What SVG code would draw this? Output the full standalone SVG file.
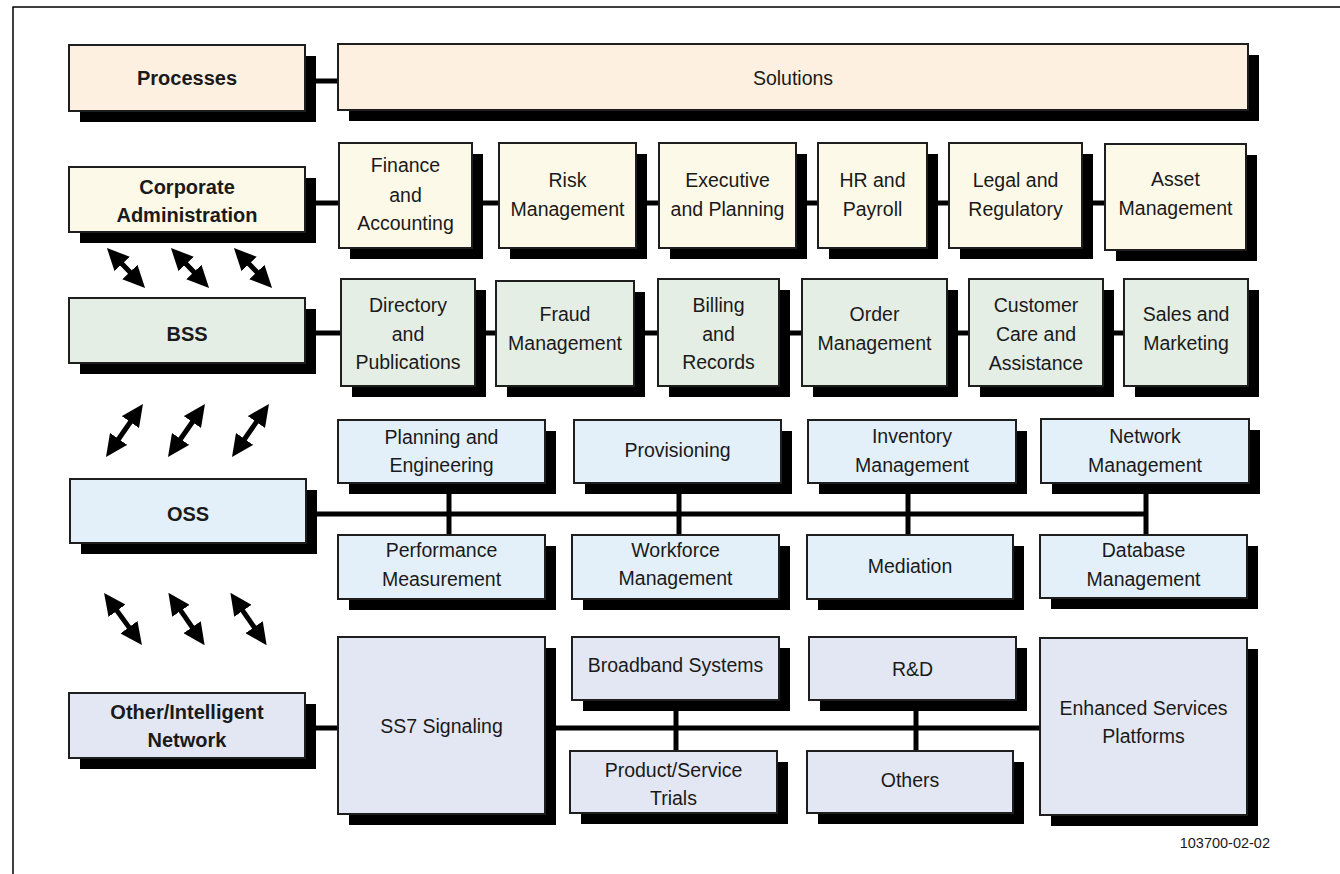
<svg xmlns="http://www.w3.org/2000/svg" width="1340" height="874" viewBox="0 0 1340 874">
<style>
  .sh{fill:#000}
  .bx{stroke:#1e1e1e;stroke-width:2}
  .p{fill:#FDF0E1}
  .c{fill:#FDF9E8}
  .b{fill:#E4EEE5}
  .o{fill:#E3F0FA}
  .i{fill:#E3E7F3}
  text{font-family:"Liberation Sans",Arial,Helvetica,sans-serif;font-size:19.5px;fill:#1a1a1a;text-anchor:middle}
  .bold{font-weight:bold;font-size:20px}
  .ln{stroke:#000;stroke-width:5;fill:none}
  .ar{stroke:#000;stroke-width:5;fill:none;marker-start:url(#ah);marker-end:url(#ah)}
  .frame{stroke:#000;stroke-width:1.5;fill:none}
  .foot{font-size:14.5px;text-anchor:end}
</style>
<defs>
  <marker id="ah" viewBox="0 0 22 21" refX="7" refY="10.5" markerWidth="22" markerHeight="21" markerUnits="userSpaceOnUse" orient="auto-start-reverse">
    <path d="M0,0 L22,10.5 L0,21 z" fill="#000"/>
  </marker>
</defs>
<rect width="1340" height="874" fill="#fff"/>
<path class="frame" d="M13,874 L13,7 L1340,7"/>

<g id="connectors">
  <line class="ln" x1="305" y1="81" x2="338" y2="81"/>
  <line class="ln" x1="305" y1="203" x2="1105" y2="203"/>
  <line class="ln" x1="305" y1="333" x2="1124" y2="333"/>
  <line class="ln" x1="306" y1="514" x2="1146" y2="514"/>
  <line class="ln" x1="449" y1="483" x2="449" y2="536"/>
  <line class="ln" x1="679" y1="483" x2="679" y2="536"/>
  <line class="ln" x1="908" y1="483" x2="908" y2="536"/>
  <line class="ln" x1="1146" y1="483" x2="1146" y2="536"/>
  <line class="ln" x1="305" y1="728" x2="1040" y2="728"/>
  <line class="ln" x1="676" y1="700" x2="676" y2="751"/>
  <line class="ln" x1="916" y1="700" x2="916" y2="751"/>
  <line class="ar" x1="117.3" y1="258.9" x2="134.7" y2="277.1"/>
  <line class="ar" x1="181.3" y1="258.9" x2="198.7" y2="277.1"/>
  <line class="ar" x1="244.3" y1="258.9" x2="261.7" y2="277.1"/>
  <line class="ar" x1="114.6" y1="444.7" x2="134.4" y2="416.3"/>
  <line class="ar" x1="176.6" y1="444.7" x2="196.4" y2="416.3"/>
  <line class="ar" x1="240.6" y1="444.7" x2="260.4" y2="416.3"/>
  <line class="ar" x1="112.9" y1="605.1" x2="133.1" y2="632.9"/>
  <line class="ar" x1="176.9" y1="605.1" x2="196.1" y2="632.9"/>
  <line class="ar" x1="238.9" y1="605.1" x2="258.1" y2="632.9"/>
</g>

<g id="processes"><rect class="sh" x="80" y="56" width="236" height="66"/><rect class="bx p" x="69" y="45" width="236" height="66"/><text class="bold" x="187" y="85">Processes</text></g>
<g id="solutions"><rect class="sh" x="349" y="55" width="910" height="66"/><rect class="bx p" x="338" y="44" width="910" height="66"/><text x="793" y="85">Solutions</text></g>

<g id="corporate"><rect class="sh" x="80" y="178" width="236" height="65"/><rect class="bx c" x="69" y="167" width="236" height="65"/><text class="bold" x="187" y="194">Corporate</text><text class="bold" x="187" y="222">Administration</text></g>
<g id="finance"><rect class="sh" x="350" y="154" width="133" height="105"/><rect class="bx c" x="339" y="143" width="133" height="105"/><text x="405.5" y="172">Finance</text><text x="405.5" y="202">and</text><text x="405.5" y="230">Accounting</text></g>
<g id="risk"><rect class="sh" x="510" y="154" width="137" height="105"/><rect class="bx c" x="499" y="143" width="137" height="105"/><text x="567.5" y="187">Risk</text><text x="567.5" y="216">Management</text></g>
<g id="executive"><rect class="sh" x="670" y="154" width="137" height="105"/><rect class="bx c" x="659" y="143" width="137" height="105"/><text x="727.5" y="187">Executive</text><text x="727.5" y="216">and Planning</text></g>
<g id="hr"><rect class="sh" x="829" y="154" width="109" height="105"/><rect class="bx c" x="818" y="143" width="109" height="105"/><text x="872.5" y="187">HR and</text><text x="872.5" y="216">Payroll</text></g>
<g id="legal"><rect class="sh" x="960" y="154" width="133" height="105"/><rect class="bx c" x="949" y="143" width="133" height="105"/><text x="1015.5" y="187">Legal and</text><text x="1015.5" y="216">Regulatory</text></g>
<g id="asset"><rect class="sh" x="1116" y="155" width="141" height="106"/><rect class="bx c" x="1105" y="144" width="141" height="106"/><text x="1175.5" y="186">Asset</text><text x="1175.5" y="215">Management</text></g>

<g id="bss"><rect class="sh" x="80" y="309" width="236" height="65"/><rect class="bx b" x="69" y="298" width="236" height="65"/><text class="bold" x="187" y="341">BSS</text></g>
<g id="directory"><rect class="sh" x="352" y="290" width="134" height="107"/><rect class="bx b" x="341" y="279" width="134" height="107"/><text x="408" y="312">Directory</text><text x="408" y="341">and</text><text x="408" y="369">Publications</text></g>
<g id="fraud"><rect class="sh" x="507" y="292" width="138" height="105"/><rect class="bx b" x="496" y="281" width="138" height="105"/><text x="565" y="321">Fraud</text><text x="565" y="350">Management</text></g>
<g id="billing"><rect class="sh" x="669" y="290" width="121" height="107"/><rect class="bx b" x="658" y="279" width="121" height="107"/><text x="718.5" y="312">Billing</text><text x="718.5" y="341">and</text><text x="718.5" y="369">Records</text></g>
<g id="order"><rect class="sh" x="813" y="290" width="145" height="107"/><rect class="bx b" x="802" y="279" width="145" height="107"/><text x="874.5" y="321">Order</text><text x="874.5" y="350">Management</text></g>
<g id="customer"><rect class="sh" x="980" y="290" width="134" height="107"/><rect class="bx b" x="969" y="279" width="134" height="107"/><text x="1036" y="312">Customer</text><text x="1036" y="341">Care and</text><text x="1036" y="370">Assistance</text></g>
<g id="sales"><rect class="sh" x="1135" y="290" width="124" height="107"/><rect class="bx b" x="1124" y="279" width="124" height="107"/><text x="1186" y="321">Sales and</text><text x="1186" y="350">Marketing</text></g>

<g id="oss"><rect class="sh" x="81" y="490" width="236" height="64"/><rect class="bx o" x="70" y="479" width="236" height="64"/><text class="bold" x="188" y="521">OSS</text></g>
<g id="planning"><rect class="sh" x="349" y="431" width="207" height="63"/><rect class="bx o" x="338" y="420" width="207" height="63"/><text x="441.5" y="444">Planning and</text><text x="441.5" y="472">Engineering</text></g>
<g id="provisioning"><rect class="sh" x="585" y="431" width="207" height="63"/><rect class="bx o" x="574" y="420" width="207" height="63"/><text x="677.5" y="457">Provisioning</text></g>
<g id="inventory"><rect class="sh" x="819" y="431" width="208" height="63"/><rect class="bx o" x="808" y="420" width="208" height="63"/><text x="912" y="443">Inventory</text><text x="912" y="472">Management</text></g>
<g id="network"><rect class="sh" x="1052" y="430" width="208" height="64"/><rect class="bx o" x="1041" y="419" width="208" height="64"/><text x="1145" y="443">Network</text><text x="1145" y="472">Management</text></g>
<g id="performance"><rect class="sh" x="349" y="546" width="207" height="64"/><rect class="bx o" x="338" y="535" width="207" height="64"/><text x="441.5" y="557">Performance</text><text x="441.5" y="586">Measurement</text></g>
<g id="workforce"><rect class="sh" x="583" y="546" width="207" height="64"/><rect class="bx o" x="572" y="535" width="207" height="64"/><text x="675.5" y="557">Workforce</text><text x="675.5" y="585">Management</text></g>
<g id="mediation"><rect class="sh" x="818" y="546" width="206" height="64"/><rect class="bx o" x="807" y="535" width="206" height="64"/><text x="910" y="573">Mediation</text></g>
<g id="database"><rect class="sh" x="1051" y="546" width="207" height="63"/><rect class="bx o" x="1040" y="535" width="207" height="63"/><text x="1143.5" y="557">Database</text><text x="1143.5" y="586">Management</text></g>

<g id="other"><rect class="sh" x="80" y="704" width="236" height="65"/><rect class="bx i" x="69" y="693" width="236" height="65"/><text class="bold" x="187" y="719">Other/Intelligent</text><text class="bold" x="187" y="747">Network</text></g>
<g id="ss7"><rect class="sh" x="349" y="648" width="207" height="177"/><rect class="bx i" x="338" y="637" width="207" height="177"/><text x="441.5" y="733">SS7 Signaling</text></g>
<g id="broadband"><rect class="sh" x="583" y="648" width="207" height="63"/><rect class="bx i" x="572" y="637" width="207" height="63"/><text x="675.5" y="672">Broadband Systems</text></g>
<g id="rd"><rect class="sh" x="820" y="648" width="207" height="63"/><rect class="bx i" x="809" y="637" width="207" height="63"/><text x="912.5" y="676">R&amp;D</text></g>
<g id="product"><rect class="sh" x="581" y="762" width="207" height="62"/><rect class="bx i" x="570" y="751" width="207" height="62"/><text x="673.5" y="777">Product/Service</text><text x="673.5" y="805">Trials</text></g>
<g id="others"><rect class="sh" x="818" y="762" width="206" height="62"/><rect class="bx i" x="807" y="751" width="206" height="62"/><text x="910" y="787">Others</text></g>
<g id="enhanced"><rect class="sh" x="1051" y="649" width="207" height="177"/><rect class="bx i" x="1040" y="638" width="207" height="177"/><text x="1143.5" y="715">Enhanced Services</text><text x="1143.5" y="743">Platforms</text></g>

<text class="foot" x="1270" y="848">103700-02-02</text>
</svg>
